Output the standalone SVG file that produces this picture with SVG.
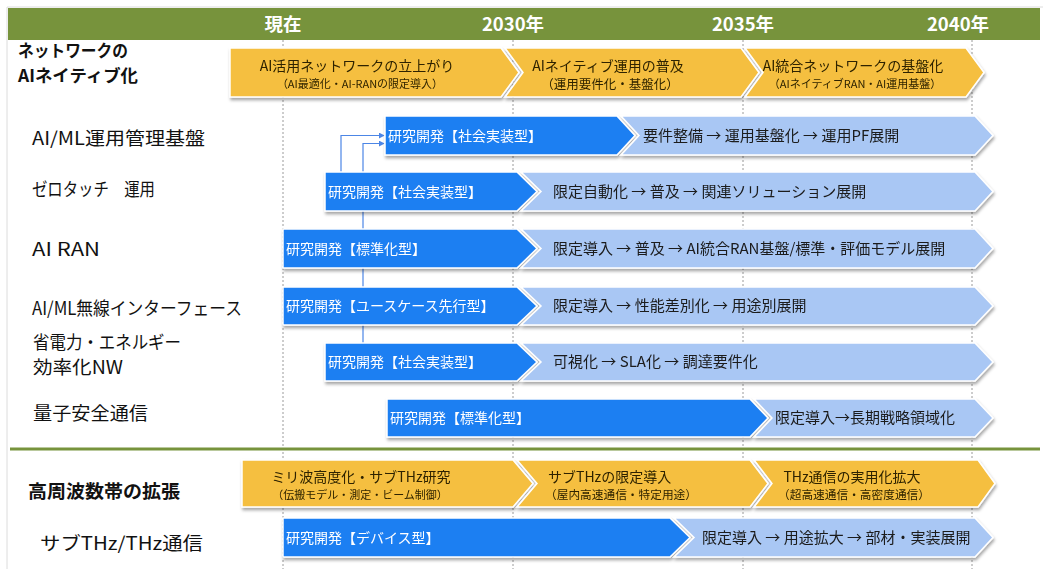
<svg xmlns="http://www.w3.org/2000/svg" width="1051" height="569" viewBox="0 0 1051 569">
<style>
text{font-family:"Noto Sans CJK JP","Noto Sans",sans-serif;}
.hdr{fill:#fff;font-weight:bold;font-size:18.5px;text-anchor:middle;}
.sec{fill:#111;font-weight:bold;}
.lbl{fill:#111;font-size:18px;}
.yel{fill:#F5BF3F;stroke:#fff;stroke-width:1.5;}
.blu{fill:#1F7FF2;stroke:#fff;stroke-width:1.5;}
.lbl2{fill:#A9C7F4;stroke:#fff;stroke-width:1.5;}
.yt1{fill:#2e2300;}
.yt2{fill:#2e2300;}
.bt{fill:#fff;font-size:14px;}
.lt{fill:#1a1a1a;font-size:15px;}
.dot{stroke:#9a9a9a;stroke-width:1;stroke-dasharray:2 2;}
.con{fill:none;stroke:#4C86E6;stroke-width:1.2;}
</style>
<defs>
<filter id="sh" x="-5%" y="-20%" width="110%" height="150%">
<feDropShadow dx="1" dy="2.5" stdDeviation="1.5" flood-color="#000" flood-opacity="0.35"/>
</filter>
<marker id="arr" viewBox="0 0 8 8" refX="7" refY="4" markerWidth="6" markerHeight="6" orient="auto" markerUnits="userSpaceOnUse">
<path d="M0,0 L8,4 L0,8 Z" fill="#4C86E6"/>
</marker>
</defs>
<rect x="0" y="0" width="1051" height="569" fill="#fff"/>
<path d="M7,569 V7 H1043" fill="none" stroke="#dcdcdc" stroke-width="1"/>
<g id="grid">
<line class="dot" x1="283" y1="40" x2="283" y2="569"/>
<line class="dot" x1="513" y1="40" x2="513" y2="569"/>
<line class="dot" x1="743" y1="40" x2="743" y2="569"/>
<line class="dot" x1="972" y1="40" x2="972" y2="569"/>
</g>
<g id="header">
<rect x="8" y="8" width="1032" height="32" fill="#77933C"/>
<text class="hdr" x="283" y="31">現在</text>
<text class="hdr" x="513" y="31">2030年</text>
<text class="hdr" x="743" y="31">2035年</text>
<text class="hdr" x="958" y="31">2040年</text>
</g>
<line x1="10" y1="449" x2="1040" y2="449" stroke="#77933C" stroke-width="3"/>
<g id="labels">
<text class="sec" x="18" y="57" font-size="16.5" textLength="110" lengthAdjust="spacingAndGlyphs">ネットワークの</text>
<text class="sec" x="18" y="82" font-size="16.5" textLength="120" lengthAdjust="spacingAndGlyphs">AIネイティブ化</text>
<text class="lbl" x="32" y="145" textLength="173" lengthAdjust="spacingAndGlyphs">AI/ML運用管理基盤</text>
<text class="lbl" x="32" y="196" textLength="123" lengthAdjust="spacingAndGlyphs">ゼロタッチ　運用</text>
<text class="lbl" x="32" y="256" textLength="68" lengthAdjust="spacingAndGlyphs">AI RAN</text>
<text class="lbl" x="32" y="315" textLength="210" lengthAdjust="spacingAndGlyphs">AI/ML無線インターフェース</text>
<text class="lbl" x="33" y="349" textLength="148" lengthAdjust="spacingAndGlyphs">省電力・エネルギー</text>
<text class="lbl" x="33" y="374" textLength="90" lengthAdjust="spacingAndGlyphs">効率化NW</text>
<text class="lbl" x="33" y="420" textLength="115" lengthAdjust="spacingAndGlyphs">量子安全通信</text>
<text class="sec" x="28" y="498" font-size="18.5" textLength="152" lengthAdjust="spacingAndGlyphs">高周波数帯の拡張</text>
<text class="lbl" x="40" y="550" textLength="163" lengthAdjust="spacingAndGlyphs">サブTHz/THz通信</text>
</g>
<g id="connectors">
<path class="con" d="M341,180 V135.5 H384" marker-end="url(#arr)"/>
<path class="con" d="M363,350 V143.5 H384" marker-end="url(#arr)"/>
</g>
<g id="phase1" filter="url(#sh)">
<g id="p1a"><polygon class="yel" points="230,48 501,48 519,72.5 501,97 230,97"/>
<text class="yt1" x="357" y="71" text-anchor="middle" font-size="14">AI活用ネットワークの立上がり</text>
<text class="yt2" x="360" y="88" text-anchor="middle" font-size="11">（AI最適化・AI-RANの限定導入）</text></g>
<g id="p1b"><polygon class="yel" points="505,48 741,48 759,72.5 741,97 505,97 523,72.5"/>
<text class="yt1" x="608" y="71" text-anchor="middle" font-size="14">AIネイティブ運用の普及</text>
<text class="yt2" x="610" y="88.5" text-anchor="middle" font-size="12.5">（運用要件化・基盤化）</text></g>
<g id="p1c"><polygon class="yel" points="745,48 966,48 984,72.5 966,97 745,97 763,72.5"/>
<text class="yt1" x="853" y="71" text-anchor="middle" font-size="14">AI統合ネットワークの基盤化</text>
<text class="yt2" x="855" y="88" text-anchor="middle" font-size="11">（AIネイティブRAN・AI運用基盤）</text></g>
</g>
<g id="row1" filter="url(#sh)">
<polygon class="lbl2" points="621,116 975,116 993,135.5 975,155 621,155 639,135.5"/>
<polygon class="blu" points="385,116 617,116 635,135.5 617,155 385,155"/>
<text class="bt" x="388" y="141">研究開発【社会実装型】</text>
<text class="lt" x="643" y="141">要件整備 → 運用基盤化 → 運用PF展開</text>
</g>
<g id="row2" filter="url(#sh)">
<polygon class="lbl2" points="521,172 975,172 993,191.5 975,211 521,211 541,191.5"/>
<polygon class="blu" points="325,172 517,172 537,191.5 517,211 325,211"/>
<text class="bt" x="328" y="197">研究開発【社会実装型】</text>
<text class="lt" x="553" y="197">限定自動化 → 普及 → 関連ソリューション展開</text>
</g>
<g id="row3" filter="url(#sh)">
<polygon class="lbl2" points="521,229 975,229 993,248.5 975,268 521,268 541,248.5"/>
<polygon class="blu" points="283,229 517,229 537,248.5 517,268 283,268"/>
<text class="bt" x="286" y="254">研究開発【標準化型】</text>
<text class="lt" x="553" y="254">限定導入 → 普及 → AI統合RAN基盤/標準・評価モデル展開</text>
</g>
<g id="row4" filter="url(#sh)">
<polygon class="lbl2" points="521,287 975,287 993,306 975,325 521,325 541,306"/>
<polygon class="blu" points="283,287 517,287 537,306 517,325 283,325"/>
<text class="bt" x="286" y="311">研究開発【ユースケース先行型】</text>
<text class="lt" x="553" y="311">限定導入 → 性能差別化 → 用途別展開</text>
</g>
<g id="row5" filter="url(#sh)">
<polygon class="lbl2" points="521,343 975,343 993,362 975,381 521,381 541,362"/>
<polygon class="blu" points="325,343 517,343 537,362 517,381 325,381"/>
<text class="bt" x="328" y="367">研究開発【社会実装型】</text>
<text class="lt" x="553" y="367">可視化 → SLA化 → 調達要件化</text>
</g>
<g id="row6" filter="url(#sh)">
<polygon class="lbl2" points="754,399 975,399 993,418 975,437 754,437 772,418"/>
<polygon class="blu" points="387,399 750,399 768,418 750,437 387,437"/>
<text class="bt" x="390" y="423">研究開発【標準化型】</text>
<text class="lt" x="775" y="423">限定導入→長期戦略領域化</text>
</g>
<g id="phase2" filter="url(#sh)">
<g id="p2a"><polygon class="yel" points="242,460 513,460 533,483.5 513,507 242,507"/>
<text class="yt1" x="361" y="482" text-anchor="middle" font-size="14">ミリ波高度化・サブTHz研究</text>
<text class="yt2" x="360" y="498.5" text-anchor="middle" font-size="11">（伝搬モデル・測定・ビーム制御）</text></g>
<g id="p2b"><polygon class="yel" points="517,460 750,460 768,483.5 750,507 517,507 537,483.5"/>
<text class="yt1" x="548" y="482" font-size="14">サブTHzの限定導入</text>
<text class="yt2" x="545" y="498.5" font-size="11.7">（屋内高速通信・特定用途）</text></g>
<g id="p2c"><polygon class="yel" points="754,460 978,460 995,483.5 978,507 754,507 772,483.5"/>
<text class="yt1" x="852" y="482" text-anchor="middle" font-size="14">THz通信の実用化拡大</text>
<text class="yt2" x="854" y="498.5" text-anchor="middle" font-size="11.7">（超高速通信・高密度通信）</text></g>
</g>
<g id="row7" filter="url(#sh)">
<polygon class="lbl2" points="674,518 975,518 993,537.5 975,557 674,557 694,537.5"/>
<polygon class="blu" points="283,518 670,518 690,537.5 670,557 283,557"/>
<text class="bt" x="286" y="543">研究開発【デバイス型】</text>
<text class="lt" x="702" y="543">限定導入 → 用途拡大 → 部材・実装展開</text>
</g>
</svg>
